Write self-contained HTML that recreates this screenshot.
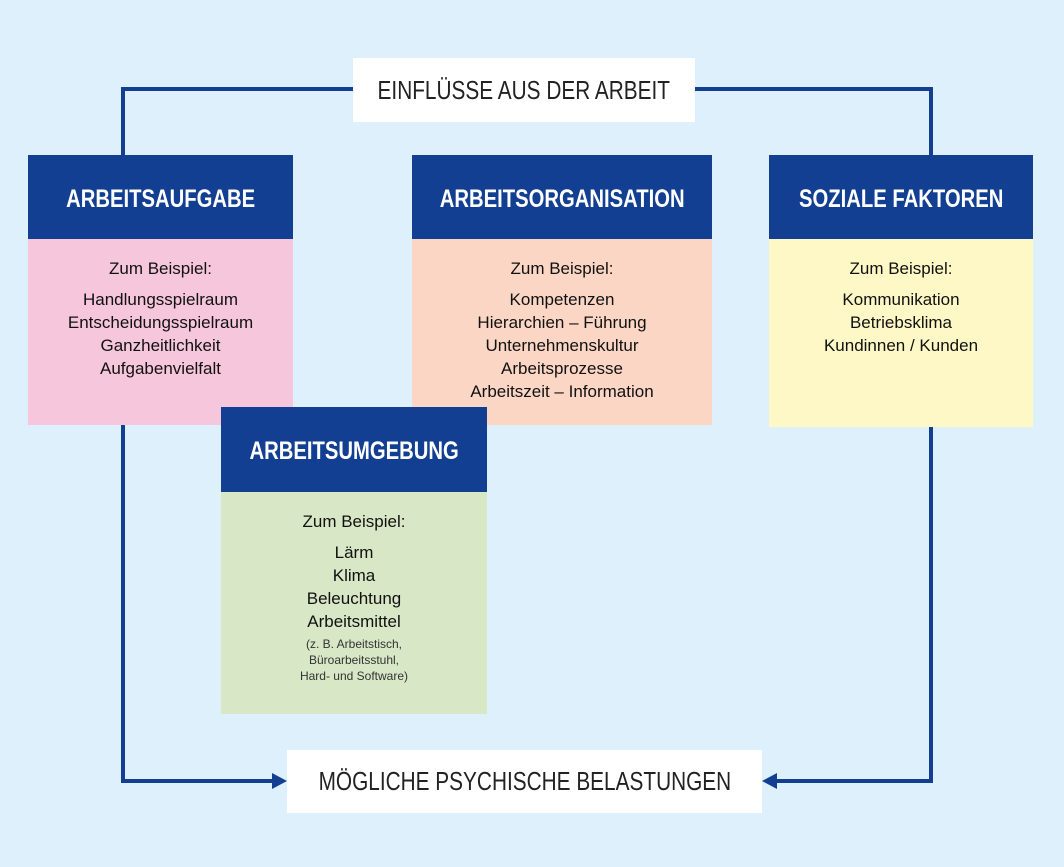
<!DOCTYPE html>
<html><head><meta charset="utf-8"><style>
body{margin:0;width:1064px;height:867px;background:#def0fb;position:relative;overflow:hidden;font-family:"Liberation Sans",sans-serif;}
.a{position:absolute}
.hd{background:#123f92;color:#fff;display:flex;align-items:center;justify-content:center;font-size:25px;font-weight:bold;padding-top:4px;box-sizing:border-box}
.hd span{display:inline-block;transform:scaleX(0.81);white-space:nowrap}
.lb span{display:inline-block;transform:scaleX(0.8);white-space:nowrap}
.bd{text-align:center;font-size:17px;color:#111;line-height:23px;box-sizing:border-box}
.lb{background:#fff;display:flex;align-items:center;justify-content:center;font-size:26px;color:#222}
</style></head><body>
<svg class="a" style="left:0;top:0" width="1064" height="867">
<g stroke="#123f92" stroke-width="4" fill="none">
<polyline points="123,155 123,89 353,89"/>
<polyline points="695,89 931,89 931,155"/>
<polyline points="123,425 123,781 275,781"/>
<polyline points="931,427 931,781 774,781"/>
</g>
<polygon points="287,781 272,773 272,789" fill="#123f92"/>
<polygon points="762,781 777,773 777,789" fill="#123f92"/>
</svg>
<div class="a lb" style="left:353px;top:58px;width:342px;height:64px"><span>EINFLÜSSE AUS DER ARBEIT</span></div>
<div class="a lb" style="left:287px;top:750px;width:475px;height:63px"><span>MÖGLICHE PSYCHISCHE BELASTUNGEN</span></div>

<div class="a hd" style="left:28px;top:155px;width:265px;height:84px"><span>ARBEITSAUFGABE</span></div>
<div class="a bd" style="left:28px;top:239px;width:265px;height:186px;background:#f6c6dc;padding-top:18px">Zum Beispiel:<div style="height:8px"></div>Handlungsspielraum<br>Entscheidungsspielraum<br>Ganzheitlichkeit<br>Aufgabenvielfalt</div>

<div class="a hd" style="left:412px;top:155px;width:300px;height:84px"><span>ARBEITSORGANISATION</span></div>
<div class="a bd" style="left:412px;top:239px;width:300px;height:186px;background:#fbd6c5;padding-top:18px">Zum Beispiel:<div style="height:8px"></div>Kompetenzen<br>Hierarchien – Führung<br>Unternehmenskultur<br>Arbeitsprozesse<br>Arbeitszeit – Information</div>

<div class="a hd" style="left:769px;top:155px;width:264px;height:84px"><span>SOZIALE FAKTOREN</span></div>
<div class="a bd" style="left:769px;top:239px;width:264px;height:188px;background:#fdf8c5;padding-top:18px">Zum Beispiel:<div style="height:8px"></div>Kommunikation<br>Betriebsklima<br>Kundinnen / Kunden</div>

<div class="a hd" style="left:221px;top:407px;width:266px;height:85px"><span>ARBEITSUMGEBUNG</span></div>
<div class="a bd" style="left:221px;top:492px;width:266px;height:222px;background:#d8e7c6;padding-top:18px">Zum Beispiel:<div style="height:8px"></div>Lärm<br>Klima<br>Beleuchtung<br>Arbeitsmittel<div style="font-size:12px;line-height:16px;color:#333;margin-top:3px">(z. B. Arbeitstisch,<br>Büroarbeitsstuhl,<br>Hard- und Software)</div></div>
</body></html>
